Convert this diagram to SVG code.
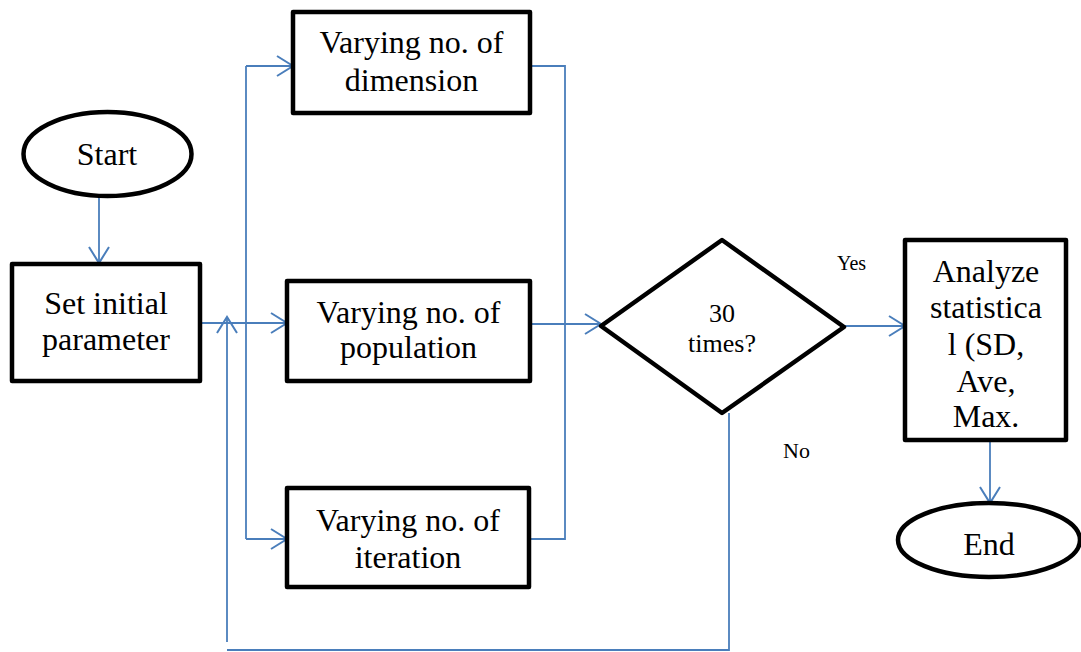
<svg xmlns="http://www.w3.org/2000/svg" width="1081" height="652" viewBox="0 0 1081 652" font-family="'Liberation Serif', serif">
<style>
.box{fill:#fff;stroke:#000;stroke-width:4.5;stroke-linejoin:round}
.t{font-size:32px;fill:#000;text-anchor:middle}
.s{fill:#000}
.c{fill:none;stroke:#4a7ebb;stroke-width:1.8}
</style>
<defs>
<marker id="ah" markerUnits="userSpaceOnUse" markerWidth="20" markerHeight="24" refX="16" refY="10" orient="auto" viewBox="-2 -2 20 24">
<path d="M0,0 L16,10 L0,20" fill="none" stroke="#4a7ebb" stroke-width="2"/>
</marker>
</defs>
<g id="connectors">
<line class="c" x1="99" y1="197" x2="99" y2="263" marker-end="url(#ah)"/>
<line class="c" x1="200" y1="323" x2="287" y2="323" marker-end="url(#ah)"/>
<line class="c" x1="246" y1="66" x2="246" y2="539"/>
<line class="c" x1="246" y1="66" x2="293" y2="66" marker-end="url(#ah)"/>
<line class="c" x1="246" y1="539" x2="287" y2="539" marker-end="url(#ah)"/>
<polyline class="c" points="530,66 565,66 565,539 529,539"/>
<line class="c" x1="530" y1="324" x2="601" y2="324" marker-end="url(#ah)"/>
<line class="c" x1="844" y1="326" x2="905" y2="326" marker-end="url(#ah)"/>
<line class="c" x1="990" y1="423" x2="990" y2="503" marker-end="url(#ah)"/>
<polyline class="c" points="729,413 729,650 227,650"/>
<line class="c" x1="227" y1="642" x2="227" y2="317" marker-end="url(#ah)"/>
</g>
<g id="start">
<ellipse class="box" cx="107.5" cy="154" rx="84" ry="42"/>
<text class="t" x="107" y="165">Start</text>
</g>
<g id="set">
<rect class="box" x="12" y="264" width="188" height="117"/>
<text class="t" x="106" y="314">Set initial</text>
<text class="t" x="106" y="350">parameter</text>
</g>
<g id="dimension">
<rect class="box" x="293" y="12" width="237" height="101"/>
<text class="t" x="411.5" y="53">Varying no. of</text>
<text class="t" x="411.5" y="91">dimension</text>
</g>
<g id="population">
<rect class="box" x="287" y="281" width="243" height="100"/>
<text class="t" x="408.5" y="323">Varying no. of</text>
<text class="t" x="408.5" y="358">population</text>
</g>
<g id="iteration">
<rect class="box" x="287" y="488" width="242" height="99"/>
<text class="t" x="408" y="531">Varying no. of</text>
<text class="t" x="408" y="568">iteration</text>
</g>
<g id="decision">
<polygon class="box" points="601,326 722,240 844,327 722,413"/>
<text class="s" x="722" y="322" font-size="26" text-anchor="middle">30</text>
<text class="s" x="722" y="352" font-size="26" text-anchor="middle">times?</text>
</g>
<g id="labels">
<text class="s" x="837" y="270" font-size="20">Yes</text>
<text class="s" x="783" y="458" font-size="22">No</text>
</g>
<g id="analyze">
<rect class="box" x="905" y="240" width="161" height="200"/>
<text class="t" x="986" y="282">Analyze</text>
<text class="t" x="986" y="318">statistica</text>
<text class="t" x="986" y="355">l (SD,</text>
<text class="t" x="986" y="392">Ave,</text>
<text class="t" x="986" y="427">Max.</text>
</g>
<g id="end">
<ellipse class="box" cx="989" cy="540" rx="91" ry="37"/>
<text class="t" x="989" y="555">End</text>
</g>
</svg>
